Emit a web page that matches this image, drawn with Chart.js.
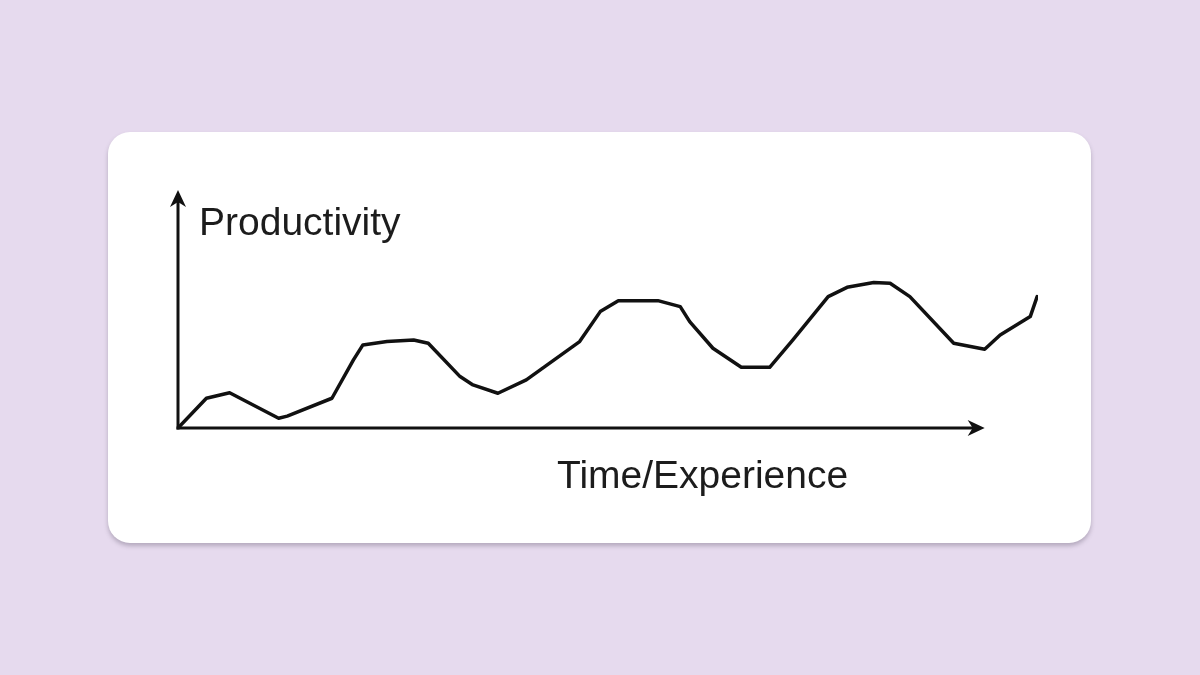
<!DOCTYPE html>
<html>
<head>
<meta charset="utf-8">
<script src="https://cdn.jsdelivr.net/npm/chart.js@4.4.1/dist/chart.umd.min.js"></script>
<style>
  html, body { margin: 0; padding: 0; width: 1200px; height: 675px; background: #E6DAEE; overflow: hidden; }
  #card { position: absolute; left: 108px; top: 132px; width: 983px; height: 411px; background: #ffffff; border-radius: 22px; box-shadow: 0 3px 4px rgba(90,80,100,0.35); }
  #c { position: absolute; left: 0; top: 0; }
</style>
</head>
<body>
<div id="card"><canvas id="c" width="983" height="411"></canvas></div>
<script>
// Time / experience (x) and productivity (y)
const timeValues = [0, 3.3, 6.0, 11.7, 12.7, 17.9, 20.4, 21.5, 24.3, 27.4, 29.1, 32.8, 34.3, 37.2, 40.5, 46.7, 49.1, 51.2, 55.8, 58.4, 59.5, 62.2, 65.5, 68.8, 71.5, 75.6, 77.8, 80.9, 82.8, 85.1, 90.2, 93.8, 95.6, 99.1, 99.9];
const productivityValues = [0, 12.5, 14.8, 4.1, 5.0, 12.5, 28.6, 34.9, 36.3, 37.0, 35.6, 21.6, 18.1, 14.6, 20.2, 36.3, 48.9, 53.5, 53.5, 51.0, 44.7, 33.5, 25.5, 25.5, 37.0, 55.2, 59.1, 61.1, 60.8, 55.2, 35.6, 33.1, 39.1, 46.8, 55.2];
const yAxisTitle = 'Productivity';
const xAxisTitle = 'Time/Experience';
const xAxisEnd = 93.8;   // where the x-axis arrow ends (in time units)

const points = timeValues.map((t, i) => ({ x: t, y: productivityValues[i] }));

function arrowHead(ctx, x, y, dir) {
  const L = 17, W = 8, notch = 5;
  ctx.beginPath();
  if (dir === 'up') {
    ctx.moveTo(x, y);
    ctx.lineTo(x - W, y + L);
    ctx.lineTo(x, y + L - notch);
    ctx.lineTo(x + W, y + L);
  } else {
    ctx.moveTo(x, y);
    ctx.lineTo(x - L, y - W);
    ctx.lineTo(x - L + notch, y);
    ctx.lineTo(x - L, y + W);
  }
  ctx.closePath();
  ctx.fill();
}

const axesPlugin = {
  id: 'arrowAxes',
  beforeDatasetsDraw(chart) {
    const { ctx, chartArea, scales } = chart;
    const x0 = scales.x.getPixelForValue(0);
    const y0 = scales.y.getPixelForValue(0);
    const yTop = chartArea.top;
    const xEnd = scales.x.getPixelForValue(xAxisEnd);
    ctx.save();
    ctx.strokeStyle = '#111111';
    ctx.fillStyle = '#111111';
    ctx.lineWidth = 3;
    ctx.lineCap = 'butt';
    ctx.beginPath();
    ctx.moveTo(x0, y0 + 1.5);
    ctx.lineTo(x0, yTop + 8);
    ctx.stroke();
    ctx.beginPath();
    ctx.moveTo(x0 - 1.5, y0);
    ctx.lineTo(xEnd - 8, y0);
    ctx.stroke();
    arrowHead(ctx, x0, yTop, 'up');
    arrowHead(ctx, xEnd, y0, 'right');

    ctx.fillStyle = '#1c1c1c';
    ctx.font = '39px "Liberation Sans", Arial, sans-serif';
    ctx.textBaseline = 'alphabetic';
    ctx.textAlign = 'left';
    ctx.fillText(yAxisTitle, x0 + 21, yTop + 45);
    ctx.fillText(xAxisTitle, x0 + 379, y0 + 60);
    ctx.restore();
  }
};

new Chart(document.getElementById('c'), {
  type: 'line',
  data: {
    datasets: [{
      data: points,
      borderColor: '#111111',
      borderWidth: 3.5,
      pointRadius: 0,
      tension: 0,
      fill: false,
      borderJoinStyle: 'round',
      borderCapStyle: 'round'
    }]
  },
  options: {
    responsive: false,
    animation: false,
    devicePixelRatio: 1,
    layout: { padding: { left: 70, right: 53, top: 58, bottom: 115 } },
    plugins: { legend: { display: false }, tooltip: { enabled: false }, title: { display: false } },
    scales: {
      x: { type: 'linear', min: 0, max: 100, display: false },
      y: { type: 'linear', min: 0, max: 100, display: false }
    }
  },
  plugins: [axesPlugin]
});
</script>
</body>
</html>
